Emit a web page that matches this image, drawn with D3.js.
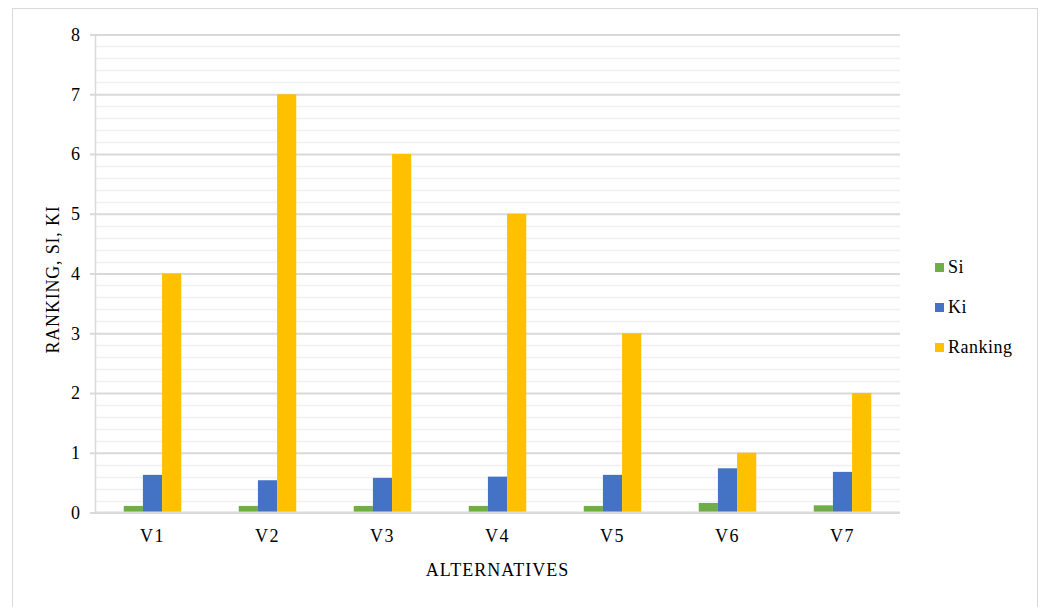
<!DOCTYPE html>
<html>
<head>
<meta charset="utf-8">
<script src="https://cdn.jsdelivr.net/npm/d3@7"></script>
<style>
  html, body { margin: 0; padding: 0; background: #ffffff; }
  svg { display: block; }
  text { font-family: "Liberation Serif", "Times New Roman", "DejaVu Serif", serif; fill: #000; }
</style>
</head>
<body>
<svg id="chart" width="1042" height="607"></svg>
<script>
// Alternatives and their scores
const categories = ["V1", "V2", "V3", "V4", "V5", "V6", "V7"];
const siValues = [0.11, 0.11, 0.11, 0.11, 0.11, 0.16, 0.12];
const kiValues = [0.63, 0.54, 0.58, 0.60, 0.63, 0.74, 0.68];
const rankingValues = [4, 7, 6, 5, 3, 1, 2];
const seriesNames = ["Si", "Ki", "Ranking"];
const seriesColors = ["#70ad47", "#4472c4", "#ffc000"];
const yTicks = [0, 1, 2, 3, 4, 5, 6, 7, 8];

const seriesValues = [siValues, kiValues, rankingValues];
const rows = categories.map((c, i) => ({
  cat: c,
  vals: seriesNames.map((s, j) => ({ key: s, value: seriesValues[j][i], color: seriesColors[j] }))
}));

const svg = d3.select("#chart");

// Outer chart frame
svg.append("rect")
  .attr("x", 12.5).attr("y", 8.5)
  .attr("width", 1025).attr("height", 610)
  .attr("fill", "none").attr("stroke", "#d9d9d9").attr("stroke-width", 1);

const plot = { left: 95, right: 900, top: 34.5, bottom: 512.5 };

const x = d3.scaleBand().domain(categories).range([plot.left, plot.right]).paddingInner(0).paddingOuter(0);
const y = d3.scaleLinear().domain([0, 8]).range([plot.bottom, plot.top]);
const groupWidth = x.bandwidth() * 0.5;
const xs = d3.scaleBand().domain(seriesNames).range([0, groupWidth]);

// Minor gridlines every 0.2
const minor = d3.range(0, 8.0001, 0.2).filter(v => Math.abs(v - Math.round(v)) > 1e-6);
svg.append("g").selectAll("line").data(minor).join("line")
  .attr("x1", plot.left).attr("x2", plot.right)
  .attr("y1", d => Math.round(y(d)) + 0.5).attr("y2", d => Math.round(y(d)) + 0.5)
  .attr("stroke", "#f0f0f0").attr("stroke-width", 1.5);

// Major gridlines with small outer ticks
const yAxis = d3.axisLeft(y).tickValues(yTicks).tickFormat(d3.format("d"))
  .tickSize(-(plot.right - plot.left)).tickPadding(15);
const gy = svg.append("g").attr("transform", `translate(${plot.left},0)`).call(yAxis);
gy.select(".domain").remove();
gy.selectAll(".tick line").attr("x1", -5).attr("stroke", "#d9d9d9").attr("stroke-width", 2);
gy.selectAll(".tick text").attr("font-size", 18).attr("fill", "#000");

// Vertical axis line
svg.append("line")
  .attr("x1", plot.left + 0.5).attr("x2", plot.left + 0.5)
  .attr("y1", plot.top).attr("y2", plot.bottom)
  .attr("stroke", "#d9d9d9").attr("stroke-width", 1.5);

// Bars
const groups = svg.append("g").selectAll("g").data(rows).join("g")
  .attr("transform", d => `translate(${x(d.cat) + (x.bandwidth() - groupWidth) / 2},0)`);
groups.selectAll("rect").data(d => d.vals).join("rect")
  .attr("x", d => xs(d.key))
  .attr("width", xs.bandwidth())
  .attr("y", d => y(d.value))
  .attr("height", d => y(0) - y(d.value))
  .attr("fill", d => d.color);

// Baseline
svg.append("line")
  .attr("x1", plot.left).attr("x2", plot.right)
  .attr("y1", y(0)).attr("y2", y(0))
  .attr("stroke", "#d9d9d9").attr("stroke-width", 2);

// Category labels
const xAxis = d3.axisBottom(x).tickSize(0).tickPadding(17);
const gx = svg.append("g").attr("transform", `translate(0,${plot.bottom})`).call(xAxis);
gx.select(".domain").remove();
gx.selectAll(".tick text").attr("font-size", 18).attr("fill", "#000").attr("letter-spacing", "1.5px");

// Axis titles
svg.append("text")
  .attr("x", (plot.left + plot.right) / 2).attr("y", 576)
  .attr("text-anchor", "middle").attr("font-size", 18).attr("letter-spacing", "1px")
  .text("ALTERNATIVES");

svg.append("text")
  .attr("transform", `translate(59,${(plot.top + plot.bottom) / 2 + 6}) rotate(-90)`)
  .attr("text-anchor", "middle").attr("font-size", 18).attr("letter-spacing", "0.8px")
  .text("RANKING, SI, KI");

// Legend
const legend = svg.append("g").attr("transform", "translate(935,263)");
const li = legend.selectAll("g").data(seriesNames).join("g")
  .attr("transform", (d, i) => `translate(0,${i * 40})`);
li.append("rect").attr("width", 9).attr("height", 9).attr("fill", (d, i) => seriesColors[i]);
li.append("text").attr("x", 13).attr("y", 10).attr("font-size", 18).attr("letter-spacing", "0.5px").text(d => d);
</script>
</body>
</html>
